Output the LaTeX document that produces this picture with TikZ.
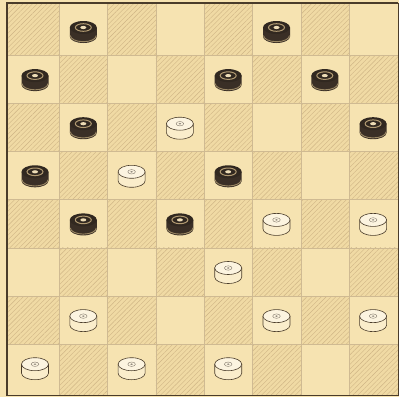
\documentclass[tikz,border=0pt]{standalone}
\usetikzlibrary{patterns.meta}

\definecolor{paper}{HTML}{F6E3B1}
\definecolor{darksq}{HTML}{F0DAA4}
\definecolor{hatch}{HTML}{CFB585}
\definecolor{frame}{HTML}{4A3C2A}
\definecolor{gridcol}{HTML}{CFBA92}
\definecolor{ink}{HTML}{3A2F26}
\definecolor{ivory}{HTML}{FAEDCB}

\tikzset{
  blackman/.pic={
    \fill[ink] (-13.5,-4.5) -- (-13.5,4.5) arc[start angle=180,end angle=0,x radius=13.5,y radius=6.5] -- (13.5,-4.5) -- cycle;
    \draw[hatch!75!black,line width=0.9pt] (-13,3.5) arc[start angle=180,end angle=0,x radius=13,y radius=6.2];
    \fill[ink!85!black] (0,-4.5) ellipse[x radius=13.5,y radius=6.5];
    \draw[hatch!80!ink,line width=1pt] (0,-4.5) ellipse[x radius=8,y radius=3.8];
    \fill[ivory!70!hatch] (0,-4.5) ellipse[x radius=3,y radius=1.6];
  },
  whiteman/.pic={
    \filldraw[fill=ivory,draw=frame,line width=0.6pt] (-13.5,-4.5) -- (-13.5,4.5) arc[start angle=180,end angle=0,x radius=13.5,y radius=6.5] -- (13.5,-4.5) -- cycle;
    \filldraw[fill=ivory!60!white,draw=frame,line width=0.6pt] (0,-4.5) ellipse[x radius=13.5,y radius=6.5];
    \draw[frame!70,line width=0.4pt] (0,-4.5) ellipse[x radius=3.8,y radius=2.2];
    \fill[frame!60] (0,-4.5) ellipse[x radius=1.4,y radius=0.8];
  }
}

\begin{document}
\begin{tikzpicture}[x=1pt,y=-1pt]
\useasboundingbox (0,0) rectangle (399,397);
\fill[paper] (0,0) rectangle (399,397);

% squares
\foreach \c/\xa/\xb in {0/7/59,1/59/107.4,2/107.4/155.8,3/155.8/204.2,4/204.2/252.6,5/252.6/301,6/301/349.4,7/349.4/398}
  \foreach \r/\ya/\yb in {0/3/55,1/55/103.2,2/103.2/151.4,3/151.4/199.6,4/199.6/247.8,5/247.8/296,6/296/344.2,7/344.2/395}
  {
    \pgfmathtruncatemacro{\odd}{mod(\r+\c,2)}
    \ifnum\odd=0
      \fill[darksq] (\xa,\ya) rectangle (\xb,\yb);
      \fill[pattern={Lines[angle=45,distance=3.4pt,line width=0.4pt]},pattern color=hatch] (\xa,\ya) rectangle (\xb,\yb);
    \fi
    \draw[gridcol,line width=0.4pt] (\xa,\ya) rectangle (\xb,\yb);
  }

% frame
\draw[frame,line width=0.7pt] (7,3) rectangle (398,395);
\draw[frame,line width=1.6pt] (7,2) -- (7,396);
\draw[frame,line width=1.1pt] (6,3) -- (398,3);

% pieces
\foreach \c/\r in {1/0,5/0,0/1,4/1,6/1,1/2,7/2,0/3,4/3,1/4,3/4}
  \pic at ({35+48.3*\c},{32+48.1*\r}) {blackman};
\foreach \c/\r in {3/2,2/3,5/4,7/4,4/5,1/6,5/6,7/6,0/7,2/7,4/7}
  \pic at ({35+48.3*\c},{32+48.1*\r}) {whiteman};
\end{tikzpicture}
\end{document}
